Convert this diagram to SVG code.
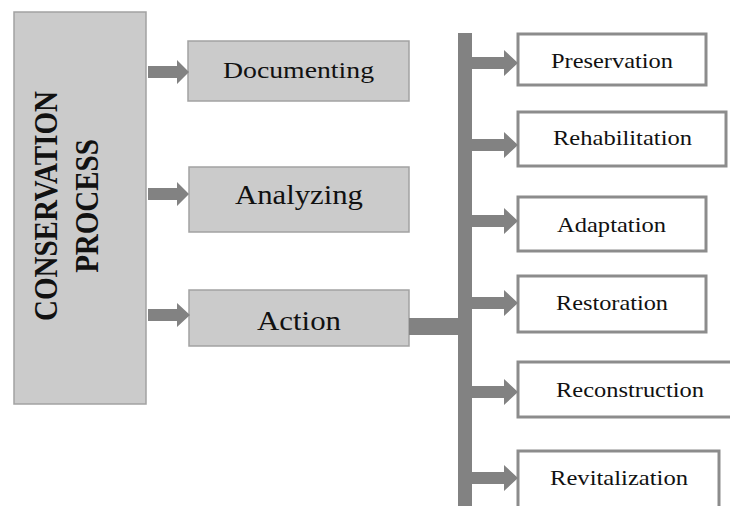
<svg xmlns="http://www.w3.org/2000/svg" width="730" height="506" viewBox="0 0 730 506">
<style>
.gbox{fill:#cbcbcb;stroke:#a2a2a2;stroke-width:1.5}
.wbox{fill:#ffffff;stroke:#8c8c8c;stroke-width:3}
.arr{fill:#828282}
.t{font-family:"Liberation Serif","Times New Roman",serif;fill:#111;text-anchor:middle}
.tb{font-family:"Liberation Serif","Times New Roman",serif;font-weight:bold;fill:#111;text-anchor:middle}
</style>
<rect width="730" height="506" fill="#ffffff"/>
<g id="conservation-process">
<rect class="gbox" x="14" y="12" width="132" height="392"/>
<g transform="translate(57,206) scale(1.14,1) rotate(-90)"><text class="tb" x="0" y="0" font-size="29">CONSERVATION</text></g>
<g transform="translate(98,206) scale(1.14,1) rotate(-90)"><text class="tb" x="0" y="0" font-size="29">PROCESS</text></g>
</g>
<g id="documenting">
<rect class="gbox" x="188" y="41" width="221" height="60"/>
<text class="t" x="298.5" y="78" font-size="24" textLength="151" lengthAdjust="spacingAndGlyphs">Documenting</text>
</g>
<g id="analyzing">
<rect class="gbox" x="189" y="167" width="220" height="65"/>
<text class="t" x="299" y="204" font-size="27" textLength="128" lengthAdjust="spacingAndGlyphs">Analyzing</text>
</g>
<g id="action">
<rect class="gbox" x="189" y="290" width="220" height="56"/>
<text class="t" x="299" y="330" font-size="27" textLength="84" lengthAdjust="spacingAndGlyphs">Action</text>
</g>
<g id="preservation">
<rect class="wbox" x="518" y="34" width="188" height="51"/>
<text class="t" x="612" y="68" font-size="21.5" textLength="122" lengthAdjust="spacingAndGlyphs">Preservation</text>
</g>
<g id="rehabilitation">
<rect class="wbox" x="518" y="112" width="208" height="54"/>
<text class="t" x="622.5" y="145" font-size="21.5" textLength="139" lengthAdjust="spacingAndGlyphs">Rehabilitation</text>
</g>
<g id="adaptation">
<rect class="wbox" x="518" y="197" width="188" height="54"/>
<text class="t" x="611.5" y="232" font-size="21.5" textLength="109" lengthAdjust="spacingAndGlyphs">Adaptation</text>
</g>
<g id="restoration">
<rect class="wbox" x="518" y="276" width="188" height="56"/>
<text class="t" x="612" y="310" font-size="21.5" textLength="112" lengthAdjust="spacingAndGlyphs">Restoration</text>
</g>
<g id="reconstruction">
<rect class="wbox" x="518" y="362" width="214" height="55"/>
<text class="t" x="630" y="397" font-size="21.5" textLength="148" lengthAdjust="spacingAndGlyphs">Reconstruction</text>
</g>
<g id="revitalization">
<rect class="wbox" x="518" y="451" width="201" height="60"/>
<text class="t" x="619" y="485" font-size="21.5" textLength="138" lengthAdjust="spacingAndGlyphs">Revitalization</text>
</g>
<g id="connectors">
<polygon class="arr" points="148,66 177,66 177,60 189,72 177,84 177,78 148,78"/>
<polygon class="arr" points="148,188 177,188 177,182 189,194 177,206 177,200 148,200"/>
<polygon class="arr" points="148,309 177,309 177,303 190,315 177,327 177,321 148,321"/>
<rect class="arr" x="409" y="318" width="52" height="17"/>
<rect class="arr" x="458" y="33" width="14" height="473"/>
<polygon class="arr" points="471,57 504,57 504,50 518,63 504,76 504,69 471,69"/>
<polygon class="arr" points="471,139 504,139 504,132 518,145 504,158 504,151 471,151"/>
<polygon class="arr" points="471,215 504,215 504,208 518,221 504,234 504,227 471,227"/>
<polygon class="arr" points="471,297 504,297 504,290 518,303 504,316 504,309 471,309"/>
<polygon class="arr" points="471,386 504,386 504,379 518,392 504,405 504,398 471,398"/>
<polygon class="arr" points="471,472 504,472 504,465 518,478 504,491 504,484 471,484"/>
</g>
</svg>
